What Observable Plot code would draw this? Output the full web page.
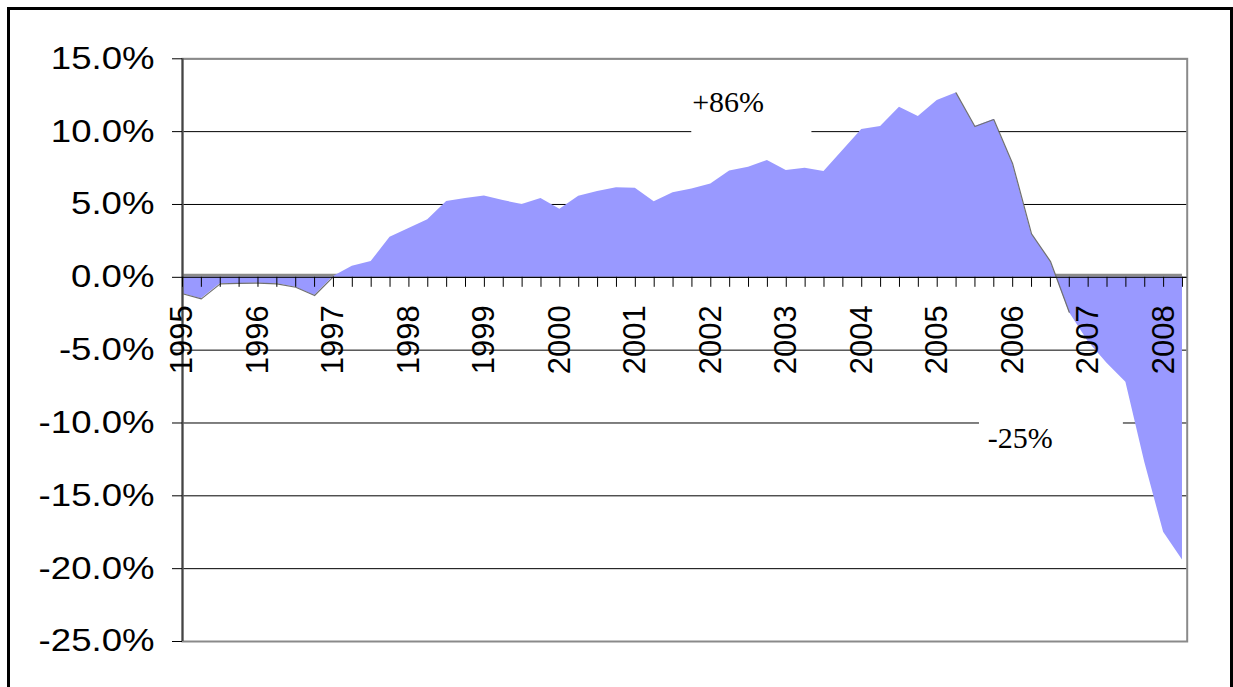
<!DOCTYPE html>
<html><head><meta charset="utf-8">
<script src="https://cdn.jsdelivr.net/npm/d3@7"></script>
<script src="https://cdn.jsdelivr.net/npm/@observablehq/plot@0.6"></script>
<style>
html,body{margin:0;padding:0;background:#fff;overflow:hidden;}
#wrap{position:relative;width:1233px;height:687px;overflow:hidden;}
#chart{position:absolute;left:0;top:0;}
#border{position:absolute;left:7px;top:7px;width:1220px;height:700px;border:3px solid #000;}
</style></head><body>
<div id="wrap"><div id="chart"></div><div id="border"></div></div>
<script>
// Quarters (decimal year: Q1 = .00, Q2 = .25, Q3 = .50, Q4 = .75)
const quarters = [
  1995.00, 1995.25, 1995.50, 1995.75,
  1996.00, 1996.25, 1996.50, 1996.75,
  1997.00, 1997.25, 1997.50, 1997.75,
  1998.00, 1998.25, 1998.50, 1998.75,
  1999.00, 1999.25, 1999.50, 1999.75,
  2000.00, 2000.25, 2000.50, 2000.75,
  2001.00, 2001.25, 2001.50, 2001.75,
  2002.00, 2002.25, 2002.50, 2002.75,
  2003.00, 2003.25, 2003.50, 2003.75,
  2004.00, 2004.25, 2004.50, 2004.75,
  2005.00, 2005.25, 2005.50, 2005.75,
  2006.00, 2006.25, 2006.50, 2006.75,
  2007.00, 2007.25, 2007.50, 2007.75,
  2008.00, 2008.25
];
// Year-over-year change, percent
const values = [
  -1.13, -1.48, -0.45, -0.42,
  -0.40, -0.45, -0.68, -1.25,
   0.05,  0.76,  1.08,  2.75,
   3.35,  3.95,  5.20,  5.41,
   5.59,  5.27,  5.00,  5.41,
   4.68,  5.57,  5.89,  6.14,
   6.12,  5.18,  5.80,  6.07,
   6.41,  7.30,  7.56,  8.02,
   7.33,  7.49,  7.26,  8.70,
  10.14, 10.35, 11.67, 11.04,
  12.13, 12.66, 10.35, 10.83,
   7.79,  2.98,  1.10, -2.40,
  -4.40, -5.90, -7.20, -12.70,
  -17.50, -19.40
];
const yearLabels = [1995,1996,1997,1998,1999,2000,2001,2002,2003,2004,2005,2006,2007,2008];
const yTicks = [-25,-20,-15,-10,-5,0,5,10,15];

// Annotations
const annoText = ["+86%", "-25%"];
const annoX = [2001.753, 2005.67];
const annoY = [11.33, -11.70];
const annoBoxX1 = [2001.748, 2005.56];
const annoBoxX2 = [2003.34, 2007.467];
const annoBoxY1 = [13.2, -9.5];
const annoBoxY2 = [9.4, -12.2];

const W = 1233, H = 687;
const mL = 182, mR = 46.3, mT = 58.3, mB = 46;
const yDomain = [-25, 15];
const pxPerUnit = (H - mT - mB) / (yDomain[1] - yDomain[0]);
const tickLen = 10 / pxPerUnit;

const last = quarters.length - 1;
const idx = d3.range(annoText.length);
const serif = "'Liberation Serif', 'Times New Roman', serif";

const svg = Plot.plot({
  width: W, height: H,
  marginLeft: mL, marginRight: mR, marginTop: mT, marginBottom: mB,
  style: {fontFamily: "'Liberation Sans', Arial, sans-serif", fontSize: "31px", color: "#000", background: "#fff", overflow: "visible"},
  x: {domain: [1995, 2008.3125], axis: null},
  y: {domain: yDomain},
  marks: [
    Plot.gridY(yTicks, {stroke: "#000", strokeOpacity: 1, strokeWidth: 1}),
    Plot.rect(idx, {x1: i => annoBoxX1[i], x2: i => annoBoxX2[i], y1: i => annoBoxY1[i], y2: i => annoBoxY2[i], fill: "#fff"}),
    Plot.ruleY([0], {x1: quarters[0], x2: quarters[last], stroke: "#8c8c8c", strokeWidth: 3, dy: -2}),
    Plot.areaY(values, {x: quarters, y: d => d, fill: "#9999ff", curve: "linear"}),
    Plot.line(values.slice(0, 9), {x: quarters.slice(0, 9), y: d => d, stroke: "#707070", strokeWidth: 1.2}),
    Plot.line(values.slice(41, 48), {x: quarters.slice(41, 48), y: d => d, stroke: "#707070", strokeWidth: 1.2}),
    Plot.frame({stroke: "#8a8a8a", strokeWidth: 2}),
    Plot.ruleX([quarters[0]], {stroke: "#444", strokeWidth: 2}),
    Plot.ruleY([0], {stroke: "#000", strokeWidth: 1}),
    Plot.ruleX(quarters, {x: d => d, y1: 0, y2: -tickLen, stroke: "#000", strokeWidth: 1}),
    Plot.axisY(yTicks, {tickSize: 10, tickPadding: 18, tickFormat: d => d.toFixed(1) + "%", fontSize: 31, label: null}),
    Plot.text(yearLabels, {x: d => d, y: 0, text: d => String(d), rotate: -90, textAnchor: "end", dy: 28, fontSize: 31, fill: "#000", ariaLabel: "x-labels"}),
    Plot.text(idx, {x: i => annoX[i], y: i => annoY[i], text: i => annoText[i], textAnchor: "start", lineAnchor: "bottom", fontSize: 30, fontFamily: serif, fill: "#000", ariaLabel: "annotation"})
  ]
});
document.getElementById("chart").append(svg);
svg.querySelectorAll("text").forEach(t => {
  const g = t.closest("g[aria-label]");
  const lab = g ? g.getAttribute("aria-label") : "";
  if (lab === "annotation") {
    t.style.fontFamily = serif;
    return;
  }
  if (lab === "y-axis tick label" || lab === "x-labels") {
    const L = t.getComputedTextLength();
    if (L > 0) {
      t.setAttribute("textLength", (L * 1.18).toFixed(1));
      t.setAttribute("lengthAdjust", "spacingAndGlyphs");
    }
  }
});
</script>
</body></html>
